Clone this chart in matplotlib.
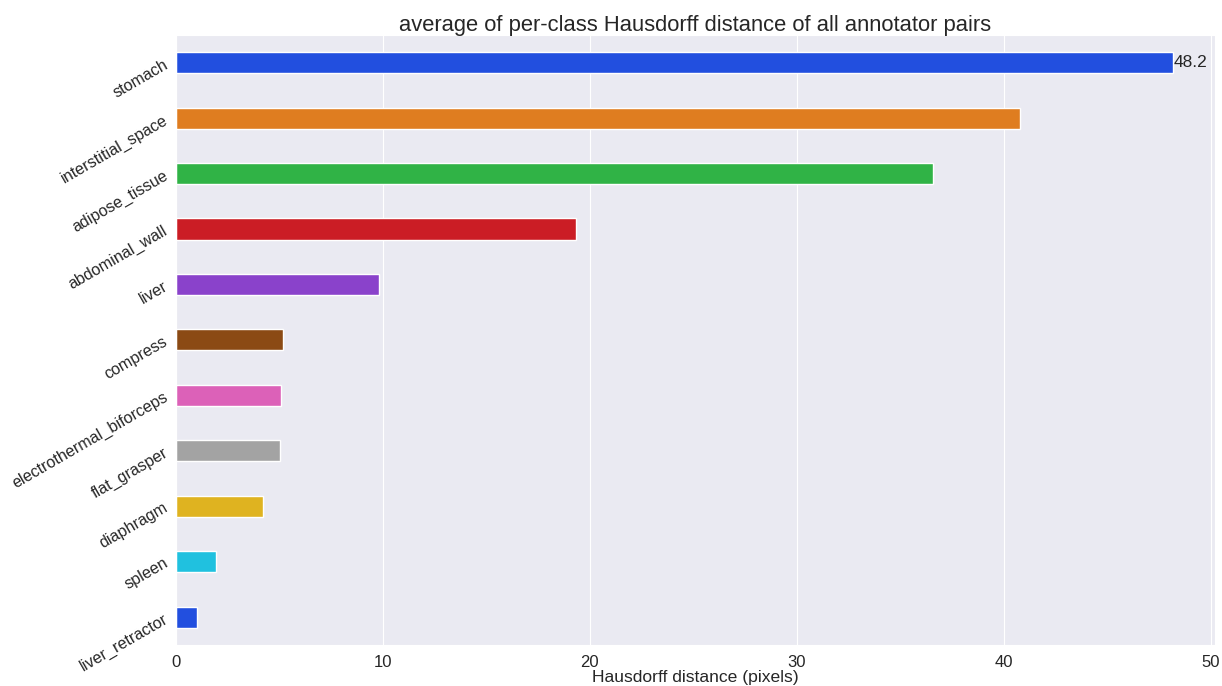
import matplotlib.pyplot as plt
import seaborn as sns

classes = ['stomach', 'interstitial_space', 'adipose_tissue', 'abdominal_wall', 'liver',
           'compress', 'electrothermal_biforceps', 'flat_grasper', 'diaphragm', 'spleen',
           'liver_retractor']
hd = [48.2, 40.8, 36.6, 19.35, 9.8, 5.15, 5.1, 5.02, 4.2, 1.93, 1.01]

sns.set_style('darkgrid')
plt.rcParams['font.family'] = ['Liberation Sans', 'DejaVu Sans']

# seaborn bars use the bright palette at 0.75 saturation
colors = [sns.desaturate(c, 0.75) for c in sns.color_palette('bright', 10)]
colors = [colors[i % 10] for i in range(len(classes))]

fig, ax = plt.subplots(figsize=(12.22, 6.86), dpi=100)
fig.subplots_adjust(left=0.144, right=0.994, top=0.949, bottom=0.06)

pos = list(range(len(classes)))
bars = ax.barh(pos, hd, height=0.38, color=colors)
ax.set_yticks(pos)
ax.set_yticklabels(classes, rotation=30, fontsize=11.6)
ax.tick_params(axis='y', pad=0.5)
ax.set_ylim(10.5, -0.5)
ax.set_xlim(0, 50.2)
ax.grid(axis='y', visible=False)
ax.tick_params(axis='x', labelsize=12)
# only the top bar gets a value label
ax.text(hd[0], pos[0], '%.1f' % hd[0], va='center', ha='left', fontsize=12.5)
ax.set_xlabel('Hausdorff distance (pixels)', fontsize=12.6, labelpad=0)
ax.set_title('average of per-class Hausdorff distance of all annotator pairs', fontsize=15.8, pad=3)

fig.savefig('out.png')
